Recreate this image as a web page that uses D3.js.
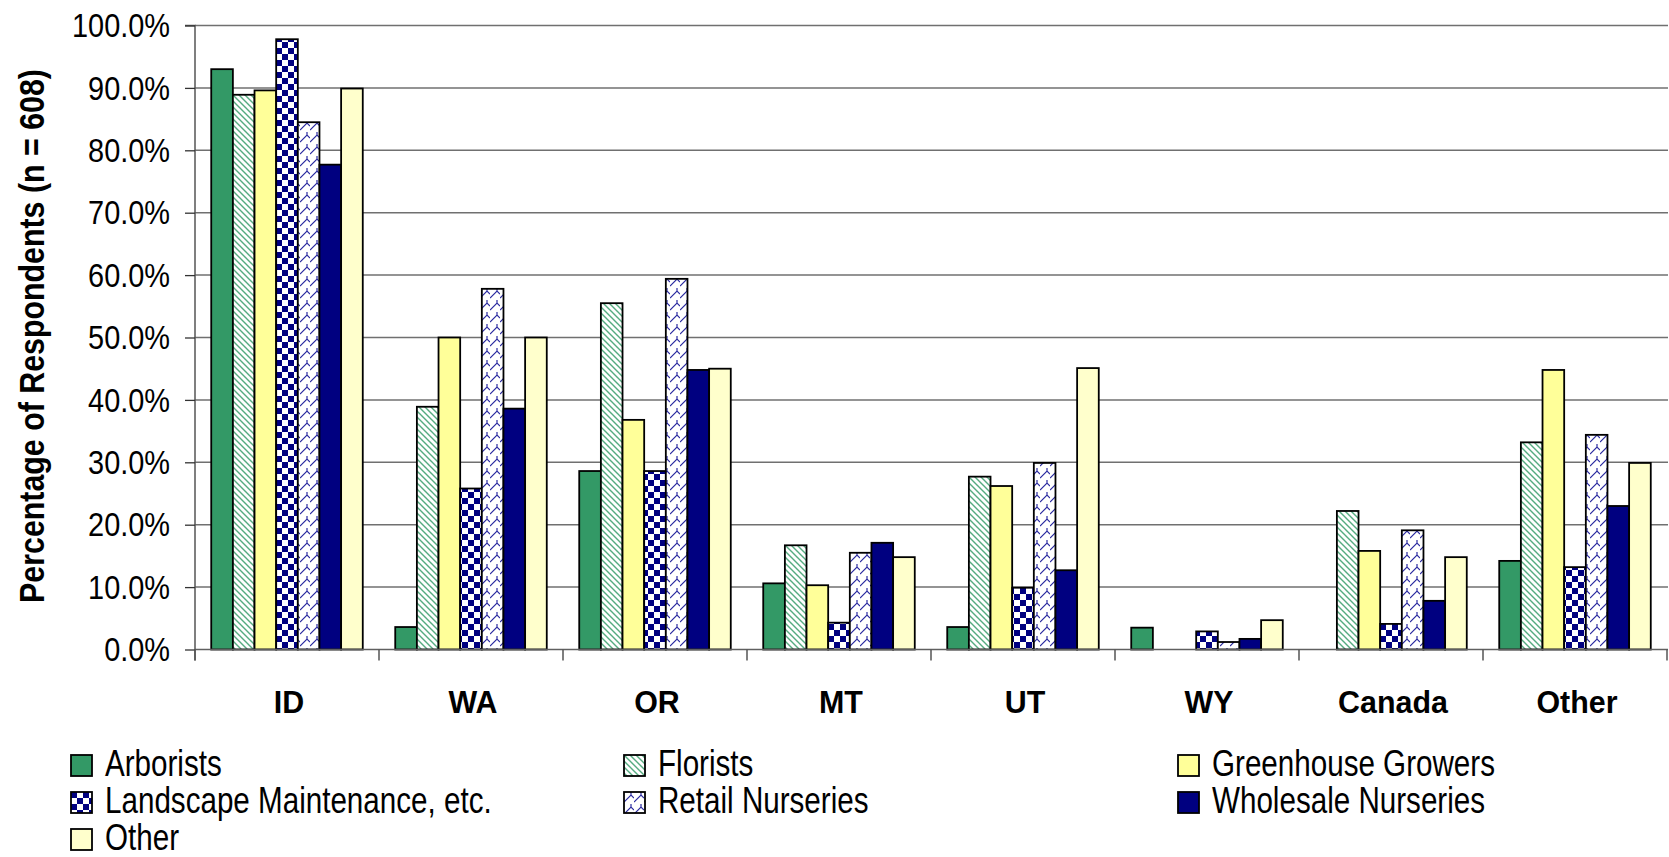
<!DOCTYPE html>
<html>
<head>
<meta charset="utf-8">
<script src="https://cdn.jsdelivr.net/npm/d3@7/dist/d3.min.js"></script>
<style>
html,body{margin:0;padding:0;background:#fff;}
svg{display:block;}
text{font-family:"Liberation Sans",Arial,Helvetica,sans-serif;fill:#000;}
</style>
</head>
<body>
<svg id="chart" width="1669" height="857"></svg>
<script>
const categories = ["ID","WA","OR","MT","UT","WY","Canada","Other"];
const seriesNames = ["Arborists","Florists","Greenhouse Growers","Landscape Maintenance, etc.","Retail Nurseries","Wholesale Nurseries","Other"];
const arborists   = [93.0, 3.6, 28.6, 10.6, 3.6, 3.5, 0, 14.2];
const florists    = [88.9, 38.9, 55.5, 16.7, 27.7, 0, 22.2, 33.2];
const greenhouse  = [89.6, 50.0, 36.8, 10.3, 26.2, 0, 15.8, 44.8];
const landscape   = [97.8, 25.8, 28.6, 4.3, 9.9, 2.9, 4.1, 13.2];
const retail      = [84.5, 57.8, 59.4, 15.5, 29.9, 1.2, 19.1, 34.4];
const wholesale   = [77.7, 38.6, 44.8, 17.1, 12.7, 1.7, 7.8, 23.0];
const otherSeries = [89.9, 50.0, 45.0, 14.8, 45.1, 4.7, 14.8, 29.9];
const tickValues = [0,10,20,30,40,50,60,70,80,90,100];
const tickLabels = ["0.0%","10.0%","20.0%","30.0%","40.0%","50.0%","60.0%","70.0%","80.0%","90.0%","100.0%"];
const yTitle = "Percentage of Respondents (n = 608)";

const seriesValues = [arborists, florists, greenhouse, landscape, retail, wholesale, otherSeries];
const fills = ["#339966","url(#pFlor)","#FFFF99","url(#pCheck)","url(#pRetail)","#000080","#FFFFCC"];

const svg = d3.select("#chart");
const defs = svg.append("defs");
// Florists: green diagonal stripes
const pf = defs.append("pattern").attr("id","pFlor").attr("patternUnits","userSpaceOnUse").attr("width",6).attr("height",6);
pf.append("rect").attr("width",6).attr("height",6).attr("fill","#fff");
pf.append("path").attr("d","M-1,-1L7,7M-1,5L1,7M5,-1L7,1").attr("stroke","#55ab80").attr("stroke-width",1.4);
// Landscape: navy checkerboard
const pc = defs.append("pattern").attr("id","pCheck").attr("patternUnits","userSpaceOnUse").attr("width",12).attr("height",12);
pc.append("rect").attr("width",12).attr("height",12).attr("fill","#fff");
pc.append("rect").attr("x",0).attr("y",0).attr("width",6).attr("height",6).attr("fill","#000080");
pc.append("rect").attr("x",6).attr("y",6).attr("width",6).attr("height",6).attr("fill","#000080");
// Retail: navy shingle pattern
const pr = defs.append("pattern").attr("id","pRetail").attr("patternUnits","userSpaceOnUse").attr("width",10).attr("height",12);
pr.append("rect").attr("width",10).attr("height",12).attr("fill","#fff");
pr.append("path").attr("d","M0,10L7,3L10,6M-3,7L0,10M7,3L7,0M7,12L7,12").attr("stroke","#2a2aa0").attr("stroke-width",1.2).attr("fill","none");

const plotLeft = 195, plotRight = 1667, plotTop = 25.5, plotBottom = 649.5;
const x0 = d3.scaleBand().domain(categories).range([plotLeft, plotRight]).paddingInner(0).paddingOuter(0);
const x1 = d3.scaleBand().domain(d3.range(seriesNames.length)).range([0, x0.bandwidth()]).paddingInner(0).paddingOuter(0.75);
const y = d3.scaleLinear().domain([0,100]).range([plotBottom, plotTop]);

// gridlines
svg.append("g").selectAll("line").data(tickValues.filter(v=>v>0)).join("line")
  .attr("x1",plotLeft).attr("x2",plotRight+1).attr("y1",d=>y(d)).attr("y2",d=>y(d))
  .attr("stroke","#707070").attr("stroke-width",1.5);

// bars
const groups = svg.append("g").selectAll("g").data(seriesValues).join("g");
groups.each(function(vals, si){
  d3.select(this).selectAll("rect").data(categories.map((c,ci)=>({c, v: vals[ci]})).filter(d=>d.v>0)).join("rect")
    .attr("x", d=>x0(d.c)+x1(si))
    .attr("width", x1.bandwidth())
    .attr("y", d=>y(d.v))
    .attr("height", d=>y(0)-y(d.v))
    .attr("fill", fills[si])
    .attr("stroke","#000").attr("stroke-width",1.8);
});

// baseline
svg.append("line").attr("x1",plotLeft).attr("x2",plotRight+1).attr("y1",y(0)).attr("y2",y(0)).attr("stroke","#606060").attr("stroke-width",1.5);

// y axis
const kTick = 0.876;
const yAxis = d3.axisLeft(y).tickValues(tickValues).tickFormat((d,i)=>tickLabels[i]).tickSize(10).tickPadding(15);
const gy = svg.append("g").attr("transform",`translate(${plotLeft},0)`).call(yAxis);
gy.select(".domain").attr("stroke","#555").attr("stroke-width",1.5).attr("d",`M-10,${plotTop}H0V${plotBottom+11}`);
gy.selectAll(".tick line").attr("stroke","#333").attr("stroke-width",1.3);
gy.selectAll(".tick text").attr("font-size",33).attr("font-family",null)
  .attr("x",-25/kTick).attr("transform",`scale(${kTick},1)`).attr("dy","0.34em").attr("fill","#000");

// x axis category ticks at boundaries
const bounds = categories.map(c=>x0(c)).concat([x0(categories[categories.length-1])+x0.bandwidth()]);
svg.append("g").selectAll("line").data(bounds).join("line")
  .attr("x1",d=>d).attr("x2",d=>d).attr("y1",y(0)).attr("y2",y(0)+11)
  .attr("stroke","#555").attr("stroke-width",1.5);

// x category labels
const kCat = 0.95;
svg.append("g").selectAll("text").data(categories).join("text")
  .attr("transform",d=>`translate(${x0(d)+x0.bandwidth()/2+2},713) scale(${kCat},1)`)
  .attr("text-anchor","middle").attr("font-size",32).attr("font-weight","bold").text(d=>d);

// y title
const kTitle = 0.88;
svg.append("text").attr("transform",`translate(44,336) rotate(-90) scale(${kTitle},1)`)
  .attr("text-anchor","middle").attr("font-size",34.5).attr("font-weight","bold").text(yTitle);

// legend
const kLeg = 0.8;
const legCols = [71, 624, 1178];
const legRows = [755, 792, 829];
const leg = svg.append("g").selectAll("g").data(seriesNames).join("g")
  .attr("transform",(d,i)=>`translate(${legCols[i%3]},${legRows[Math.floor(i/3)]})`);
leg.append("rect").attr("width",21).attr("height",21).attr("fill",(d,i)=>fills[i]).attr("stroke","#000").attr("stroke-width",1.8);
leg.append("text").attr("transform",`translate(34,21) scale(${kLeg},1)`).attr("font-size",37).text(d=>d);
</script>
</body>
</html>
